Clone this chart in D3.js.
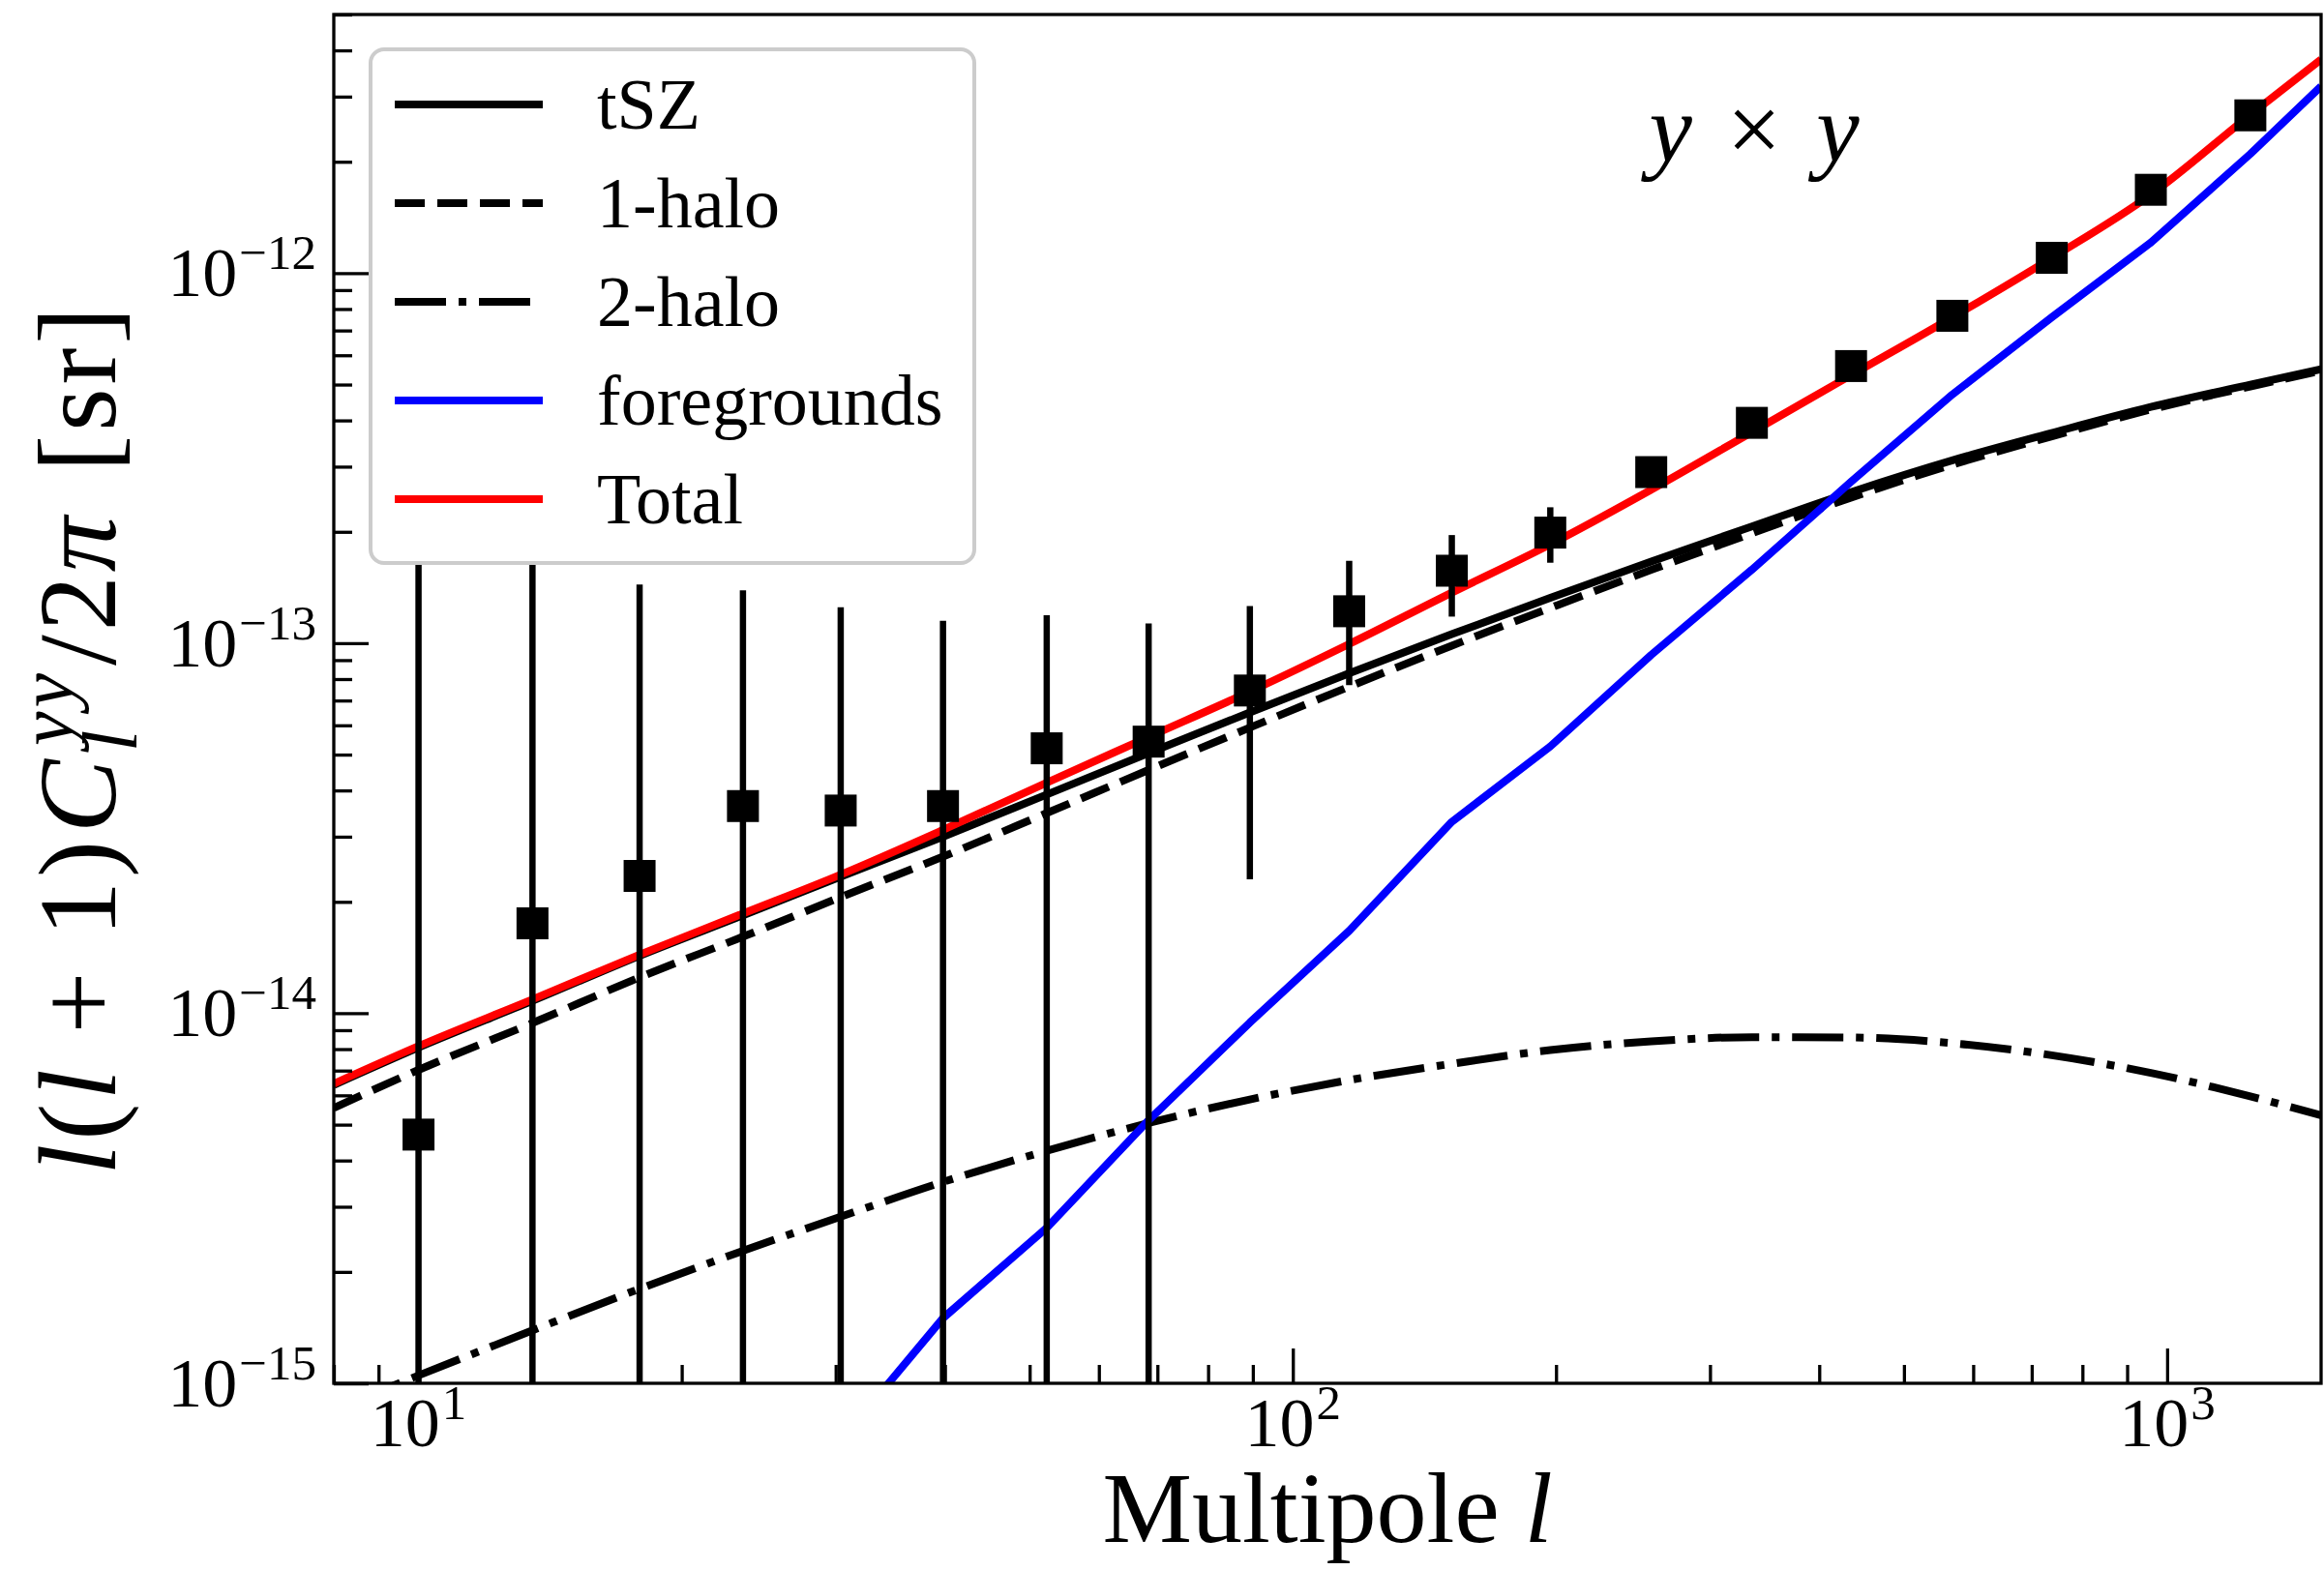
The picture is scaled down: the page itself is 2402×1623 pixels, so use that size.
<!DOCTYPE html>
<html>
<head>
<meta charset="utf-8">
<script src="https://cdn.jsdelivr.net/npm/d3@7"></script>
<style>
  html, body { margin: 0; padding: 0; background: #fff; }
  svg { display: block; }
  text { font-family: "Liberation Serif", "DejaVu Serif", serif; fill: #000; }
</style>
</head>
<body>
<svg id="chart" width="2402" height="1623"></svg>
<script>
// Multipole grid for the model curves
const ell = [8, 10, 13.5, 17.9, 23.5, 30.4, 39.8, 52.3, 68.4, 89.3, 116, 152, 197, 257, 335, 435, 568, 738, 958, 1245, 1500];

// l(l+1)C_l/2pi model spectra [sr]
const tsz = [6.4e-15, 8.08e-15, 1.08e-14, 1.43e-14, 1.84e-14, 2.34e-14, 3.0e-14, 3.9e-14, 5.05e-14, 6.5e-14, 8.29e-14,
             1.058e-13, 1.326e-13, 1.663e-13, 2.067e-13, 2.56e-13, 3.12e-13, 3.7e-13, 4.35e-13, 5.0e-13, 5.5e-13];
const oneHalo = [5.55e-15, 7.03e-15, 9.41e-15, 1.25e-14, 1.61e-14, 2.06e-14, 2.65e-14, 3.475e-14, 4.545e-14, 5.915e-14, 7.63e-14,
                 9.85e-14, 1.246e-13, 1.579e-13, 1.981e-13, 2.474e-13, 3.037e-13, 3.623e-13, 4.281e-13, 4.94e-13, 5.447e-13];
const twoHalo = [8.5e-16, 1.05e-15, 1.39e-15, 1.8e-15, 2.28e-15, 2.82e-15, 3.5e-15, 4.25e-15, 5.05e-15, 5.85e-15, 6.6e-15,
                 7.3e-15, 7.95e-15, 8.4e-15, 8.62e-15, 8.6e-15, 8.3e-15, 7.7e-15, 6.9e-15, 5.96e-15, 5.3e-15];
const total = [6.45e-15, 8.15e-15, 1.09e-14, 1.44e-14, 1.86e-14, 2.37e-14, 3.13e-14, 4.2e-14, 5.58e-14, 7.4e-14, 9.95e-14,
               1.37e-13, 1.85e-13, 2.6e-13, 3.72e-13, 5.3e-13, 7.6e-13, 1.1e-12, 1.63e-12, 2.68e-12, 3.78e-12];

// Foreground residual, tabulated at the band centres
const fgEll = [30.4, 39.8, 52.3, 68.4, 89.3, 116, 152, 197, 257, 335, 435, 568, 738, 958, 1245, 1500];
const foregrounds = [7.0e-16, 1.5e-15, 2.63e-15, 5.14e-15, 9.44e-15, 1.67e-14, 3.29e-14, 5.26e-14, 9.3e-14, 1.58e-13,
                     2.73e-13, 4.7e-13, 7.6e-13, 1.21e-12, 2.1e-12, 3.2e-12];

// Measured band powers with 1-sigma errors
const dataEll = [10, 13.5, 17.9, 23.5, 30.4, 39.8, 52.3, 68.4, 89.3, 116, 152, 197, 257, 335, 435, 568, 738, 958, 1245];
const dataVal = [4.7e-15, 1.75e-14, 2.35e-14, 3.63e-14, 3.53e-14, 3.63e-14, 5.2e-14, 5.42e-14, 7.45e-14, 1.22e-13, 1.57e-13,
                 1.99e-13, 2.9e-13, 3.94e-13, 5.61e-13, 7.67e-13, 1.1e-12, 1.68e-12, 2.67e-12];
const dataErr = [1.75e-13, 1.65e-13, 1.205e-13, 1.027e-13, 8.97e-14, 7.87e-14, 6.7e-14, 5.88e-14, 5.15e-14, 4.5e-14, 3.9e-14,
                 3.4e-14, 2.0e-14, 2.2e-14, 2.6e-14, 3.0e-14, 3.5e-14, 4.0e-14, 5.0e-14];

// Axis ticks and their labels
const xTicks = [10, 100, 1000];
const xTickExp = ["1", "2", "3"];
const yTicks = [1e-15, 1e-14, 1e-13, 1e-12];
const yTickExp = ["\u221215", "\u221214", "\u221213", "\u221212"];

const legendLabels = ["tSZ", "1-halo", "2-halo", "foregrounds", "Total"];

// ---------------------------------------------------------------
const M = { left: 345, right: 2399, top: 15, bottom: 1430 };
const svg = d3.select("#chart");

const x = d3.scaleLog().domain([8, 1500]).range([M.left, M.right]);
const y = d3.scaleLog().domain([1e-15, 5e-12]).range([M.bottom, M.top]);

svg.append("rect").attr("width", 2402).attr("height", 1623).attr("fill", "#fff");

svg.append("defs").append("clipPath").attr("id", "plotClip")
  .append("rect")
  .attr("x", M.left).attr("y", M.top)
  .attr("width", M.right - M.left).attr("height", M.bottom - M.top);

const plot = svg.append("g").attr("clip-path", "url(#plotClip)");

const LW = 8;
const series = [
  { name: "tSZ", xs: ell, ys: tsz, color: "#000000", dash: null, curve: d3.curveMonotoneX },
  { name: "1-halo", xs: ell, ys: oneHalo, color: "#000000", dash: "31,13", curve: d3.curveMonotoneX },
  { name: "2-halo", xs: ell, ys: twoHalo, color: "#000000", dash: "53,13,8,13", curve: d3.curveMonotoneX },
  { name: "foregrounds", xs: fgEll, ys: foregrounds, color: "#0000ff", dash: null, curve: d3.curveLinear },
  { name: "Total", xs: ell, ys: total, color: "#ff0000", dash: null, curve: d3.curveMonotoneX }
];

series.forEach(s => {
  const pts = s.xs.map((l, i) => [l, s.ys[i]]);
  const line = d3.line().x(d => x(d[0])).y(d => y(d[1])).curve(s.curve);
  plot.append("path")
    .attr("d", line(pts))
    .attr("fill", "none")
    .attr("stroke", s.color)
    .attr("stroke-width", LW)
    .attr("stroke-linejoin", "round")
    .attr("stroke-dasharray", s.dash);
});

// Error bars and square markers
const pts = dataEll.map((l, i) => ({ l, v: dataVal[i], e: dataErr[i] }));
plot.selectAll("line.err").data(pts).enter().append("line")
  .attr("class", "err")
  .attr("x1", d => x(d.l)).attr("x2", d => x(d.l))
  .attr("y1", d => y(Math.max(d.v - d.e, 1e-17)))
  .attr("y2", d => y(d.v + d.e))
  .attr("stroke", "#000").attr("stroke-width", 6.5);

const MS = 33;
plot.selectAll("rect.pt").data(pts).enter().append("rect")
  .attr("class", "pt")
  .attr("x", d => x(d.l) - MS / 2).attr("y", d => y(d.v) - MS / 2)
  .attr("width", MS).attr("height", MS)
  .attr("fill", "#000");

// Ticks (inward) ------------------------------------------------
const TW = 3.3, MAJ = 36, MIN = 19;
const xMinor = x.ticks().filter(t => !xTicks.some(m => Math.abs(m - t) / m < 1e-6));
const yMinor = y.ticks().filter(t => !yTicks.some(m => Math.abs(m - t) / m < 1e-6));

function styleAxis(g) {
  g.select(".domain").remove();
  g.selectAll(".tick line").attr("stroke", "#000").attr("stroke-width", TW);
  g.selectAll(".tick text").remove();
}

svg.append("g").attr("transform", `translate(0,${M.bottom})`)
  .call(d3.axisBottom(x).tickValues(xTicks).tickSizeInner(-MAJ).tickSizeOuter(0).tickFormat(""))
  .call(styleAxis);
svg.append("g").attr("transform", `translate(0,${M.bottom})`)
  .call(d3.axisBottom(x).tickValues(xMinor).tickSizeInner(-MIN).tickSizeOuter(0).tickFormat(""))
  .call(styleAxis);
svg.append("g").attr("transform", `translate(${M.left},0)`)
  .call(d3.axisLeft(y).tickValues(yTicks).tickSizeInner(-MAJ).tickSizeOuter(0).tickFormat(""))
  .call(styleAxis);
svg.append("g").attr("transform", `translate(${M.left},0)`)
  .call(d3.axisLeft(y).tickValues(yMinor).tickSizeInner(-MIN).tickSizeOuter(0).tickFormat(""))
  .call(styleAxis);

// Frame
svg.append("rect")
  .attr("x", M.left).attr("y", M.top)
  .attr("width", M.right - M.left).attr("height", M.bottom - M.top)
  .attr("fill", "none").attr("stroke", "#000").attr("stroke-width", TW);

// Tick labels: 10^n ---------------------------------------------
const TFS = 72, SFS = 51, RAISE = 28;
xTicks.forEach((v, i) => {
  const t = svg.append("text")
    .attr("x", x(v)).attr("y", M.bottom + 65)
    .attr("text-anchor", "middle")
    .attr("font-size", TFS);
  t.append("tspan").text("10");
  t.append("tspan").attr("font-size", SFS).attr("dx", 2).attr("dy", -RAISE).text(xTickExp[i]);
});
yTicks.forEach((v, i) => {
  const t = svg.append("text")
    .attr("x", M.left - 18).attr("y", y(v) + 24)
    .attr("text-anchor", "end")
    .attr("font-size", TFS);
  t.append("tspan").text("10");
  t.append("tspan").attr("font-size", SFS).attr("dx", 2).attr("dy", -RAISE).text(yTickExp[i]);
});

// Axis titles ----------------------------------------------------
const xl = svg.append("text")
  .attr("x", (M.left + M.right) / 2).attr("y", 1594)
  .attr("text-anchor", "middle").attr("font-size", 104);
xl.append("tspan").text("Multipole\u00a0");
xl.append("tspan").attr("font-style", "italic").text("l");

// Lay out a sequence of text runs; a run flagged "over" shares the x of the previous run
function setRuns(g, parts, size, spacing) {
  let cx = 0, prevX = 0, prevW = 0;
  parts.forEach(p => {
    const t = g.append("text")
      .attr("font-size", size * (p.sc || 1))
      .attr("font-style", p.it ? "italic" : "normal")
      .attr("letter-spacing", spacing)
      .attr("y", p.shift || 0)
      .text(p.t);
    const w = t.node().getComputedTextLength() + (p.gap || 0);
    if (p.over) {
      t.attr("x", prevX + (p.dx || 0));
      cx = prevX + Math.max(prevW, w + (p.dx || 0));
    } else {
      prevX = cx + (p.dx || 0);
      t.attr("x", prevX);
      prevW = w;
      cx = prevX + w;
    }
  });
  return cx;
}

const YFS = 114;
const yl = svg.append("g");
const ylInner = yl.append("g");
const ylW = setRuns(ylInner, [
  { t: "l", it: true },
  { t: "(" },
  { t: "l", it: true },
  { t: "\u00a0+\u00a01)", gap: 4 },
  { t: "C", it: true },
  { t: "yy", it: true, sc: 0.7, shift: -44, dx: 10 },
  { t: "l", it: true, sc: 0.7, shift: 22, over: true, dx: -6 },
  { t: "/2", dx: 4 },
  { t: "\u03c0", it: true, gap: 10 },
  { t: "\u00a0[sr]" }
], YFS, 4);
ylInner.attr("transform", `translate(${-ylW / 2},0)`);
yl.attr("transform", `translate(119,764) rotate(-90)`);

// Panel annotation
const ann = svg.append("text")
  .attr("x", 1813).attr("y", 167)
  .attr("text-anchor", "middle").attr("font-size", 100);
ann.append("tspan").attr("font-style", "italic").text("y");
ann.append("tspan").attr("dx", 36).text("\u00d7");
ann.append("tspan").attr("dx", 36).attr("font-style", "italic").text("y");

// Legend ---------------------------------------------------------
const LG = { x: 383, y: 51, w: 624, h: 531 };
const legend = svg.append("g");
legend.append("rect")
  .attr("x", LG.x).attr("y", LG.y).attr("width", LG.w).attr("height", LG.h)
  .attr("rx", 14).attr("ry", 14)
  .attr("fill", "#fff").attr("stroke", "#cccccc").attr("stroke-width", 4);

series.forEach((s, i) => {
  const cy = 108 + i * 102;
  legend.append("line")
    .attr("x1", 408).attr("x2", 561).attr("y1", cy).attr("y2", cy)
    .attr("stroke", s.color).attr("stroke-width", LW)
    .attr("stroke-dasharray", s.dash);
  legend.append("text")
    .attr("x", 617).attr("y", cy + 25)
    .attr("font-size", 74)
    .text(legendLabels[i]);
});
</script>
</body>
</html>
